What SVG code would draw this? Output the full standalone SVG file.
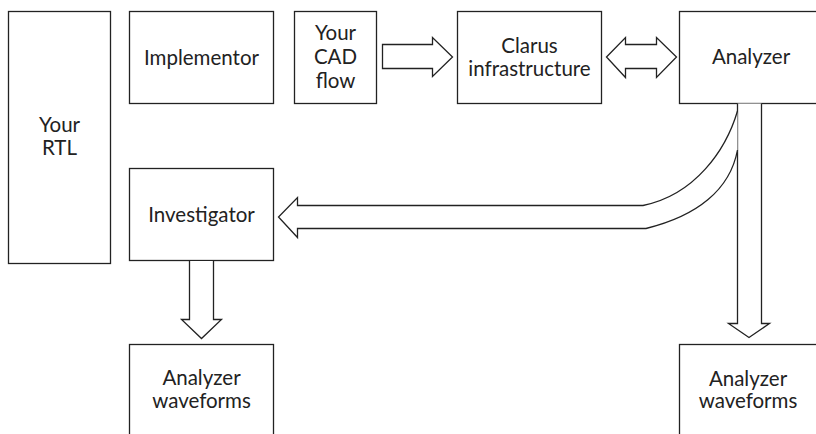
<svg xmlns="http://www.w3.org/2000/svg" width="816" height="434" viewBox="0 0 816 434">
<style>
.box{fill:#fff;stroke:#222;stroke-width:1.3}
.arr{fill:#fff;stroke:#222;stroke-width:1.3;stroke-linejoin:miter}
.ln{fill:none;stroke:#222;stroke-width:1.3}
text{font-family:Lato,"Liberation Sans",sans-serif;font-size:20.5px;fill:#222;text-anchor:middle}
</style>
<rect width="816" height="434" fill="#fff"/>
<g id="rtl"><rect class="box" x="8.5" y="11.5" width="102" height="252"/><text x="59.5" y="132">Your</text><text x="59.5" y="155">RTL</text></g>
<g id="implementor"><rect class="box" x="129.5" y="11.5" width="144" height="92"/><text x="201.5" y="65">Implementor</text></g>
<g id="cad"><rect class="box" x="294.5" y="11.5" width="82" height="92"/><text x="335.5" y="40">Your</text><text x="335.5" y="64">CAD</text><text x="335.5" y="88">flow</text></g>
<g id="clarus"><rect class="box" x="457.5" y="11.5" width="144" height="92"/><text x="529.5" y="53">Clarus</text><text x="529.5" y="76">infrastructure</text></g>
<g id="analyzer"><rect class="box" x="679.5" y="11.5" width="145" height="92"/><text x="751" y="64">Analyzer</text></g>
<g id="investigator"><rect class="box" x="129.5" y="168.5" width="144" height="92"/><text x="201.5" y="222">Investigator</text></g>
<g id="waveforms-left"><rect class="box" x="129.5" y="344.5" width="144" height="100"/><text x="201.5" y="385">Analyzer</text><text x="201.5" y="408">waveforms</text></g>
<g id="waveforms-right"><rect class="box" x="679.5" y="344.5" width="145" height="100"/><text x="748" y="386">Analyzer</text><text x="748" y="408">waveforms</text></g>
<g id="connectors">
<path class="arr" d="M382.5,44.5 H432.5 V37.5 L452.5,57 L432.5,76.5 V68.5 H382.5 Z"/>
<path class="arr" d="M606.5,57 L625.5,37.5 V44.5 H656.5 V37.5 L676.5,57 L656.5,77.5 V68.5 H625.5 V77.5 Z"/>
<path class="arr" d="M737.5,103.5 V323.5 H728.5 L749,337.5 L769.5,323.5 H761.5 V103.5"/>
<path class="arr" d="M189.5,261 V319.5 H181.5 L201.5,338.5 L221.5,319.5 H213.5 V261"/>
<path class="arr" d="M737.5,111 C726,150 695,195 643,205.5 H297.5 V197.5 L278.5,217 L297.5,237.5 V228.5 H646 C697,216 730,190 737.5,150"/>
</g>
</svg>
